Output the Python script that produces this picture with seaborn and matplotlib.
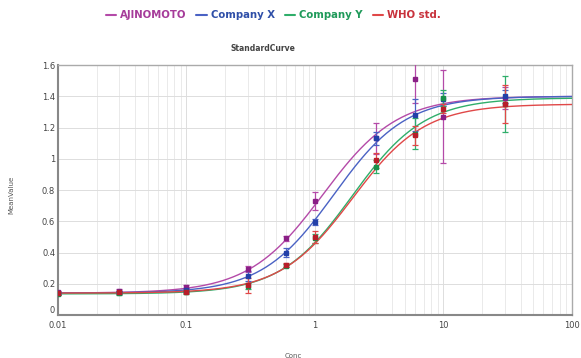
import numpy as np
import pandas as pd
import matplotlib
matplotlib.use("Agg")
import matplotlib.pyplot as plt
from matplotlib.lines import Line2D
import seaborn as sns

sns.set_style("whitegrid")
plt.rcParams["font.family"] = ["DejaVu Sans"]

# Data
conc = [0.01, 0.03, 0.1, 0.3, 0.6, 1, 3, 6, 10, 30]
series = ["AJINOMOTO", "Company X", "Company Y", "WHO std."]
mean_ajinomoto = [0.145, 0.155, 0.18, 0.295, 0.49, 0.73, 1.13, 1.51, 1.27, 1.39]
mean_company_x = [0.14, 0.145, 0.16, 0.25, 0.40, 0.595, 1.13, 1.28, 1.38, 1.40]
mean_company_y = [0.135, 0.14, 0.145, 0.185, 0.315, 0.49, 0.95, 1.16, 1.39, 1.35]
mean_who = [0.14, 0.145, 0.15, 0.19, 0.32, 0.50, 0.99, 1.15, 1.32, 1.35]
err_ajinomoto = [0.01, 0.01, 0.015, 0.02, 0.015, 0.06, 0.1, 0.15, 0.3, 0.07]
err_company_x = [0.01, 0.01, 0.01, 0.03, 0.03, 0.02, 0.04, 0.1, 0.04, 0.04]
err_company_y = [0.01, 0.01, 0.01, 0.02, 0.01, 0.03, 0.04, 0.1, 0.05, 0.18]
err_who = [0.01, 0.01, 0.01, 0.05, 0.01, 0.04, 0.05, 0.06, 0.03, 0.12]

# 4PL fit parameters per series: bottom, top, EC50, hill
fit_bottom = [0.14, 0.14, 0.135, 0.14]
fit_top = [1.40, 1.40, 1.39, 1.35]
fit_ec50 = [1.15, 1.4, 1.95, 1.95]
fit_hill = [1.5, 1.55, 1.55, 1.55]

line_colors = ["#b44aa8", "#4a62c4", "#2fae6a", "#e04848"]
marker_colors = ["#8a1f86", "#2340a8", "#18904a", "#b81e2a"]
text_colors = ["#a63c9a", "#2f4fa8", "#1f9a5a", "#c8323c"]

means = [mean_ajinomoto, mean_company_x, mean_company_y, mean_who]
errs = [err_ajinomoto, err_company_x, err_company_y, err_who]

xs = np.logspace(-2, 2, 300)
curve_rows = []
for i, name in enumerate(series):
    r = (xs / fit_ec50[i]) ** fit_hill[i]
    ys = fit_bottom[i] + (fit_top[i] - fit_bottom[i]) * r / (1 + r)
    curve_rows.append(pd.DataFrame({"Conc": xs, "MeanValue": ys, "Series": name}))
curves = pd.concat(curve_rows, ignore_index=True)

fig = plt.figure(figsize=(5.81, 3.58), dpi=100)
ax = fig.add_axes([0.0998, 0.1201, 0.8847, 0.6983])

sns.lineplot(data=curves, x="Conc", y="MeanValue", hue="Series",
             palette=dict(zip(series, line_colors)), linewidth=1.0,
             legend=False, ax=ax, zorder=3)

for i, name in enumerate(series):
    ax.errorbar(conc, means[i], yerr=errs[i], fmt="s", ms=3.2,
                color=marker_colors[i], ecolor=line_colors[i],
                elinewidth=0.9, capsize=2, capthick=0.9, zorder=4)

ax.set_xscale("log")
ax.set_xlim(0.01, 100)
ax.set_ylim(0, 1.6)
ax.set_yticks(np.arange(0, 1.61, 0.2))
ax.set_yticklabels(["0", "0.2", "0.4", "0.6", "0.8", "1", "1.2", "1.4", "1.6"])
ax.set_xticks([0.01, 0.1, 1, 10, 100])
ax.set_xticklabels(["0.01", "0.1", "1", "10", "100"])
ax.tick_params(axis="both", labelsize=6, colors="#444444", length=0)
ax.tick_params(axis="x", pad=4)
ax.tick_params(axis="y", pad=2)
# lift the "0" label a little, as in the reference
ax.get_yticklabels()[0].set_va("bottom")

ax.grid(True, which="major", color="#dddddd", linewidth=0.7)
ax.grid(True, which="minor", axis="x", color="#e6e6e6", linewidth=0.6)
ax.set_facecolor("white")
for side in ["left", "bottom"]:
    ax.spines[side].set_color("#888888")
    ax.spines[side].set_linewidth(1.5)
for side in ["top", "right"]:
    ax.spines[side].set_color("#aaaaaa")
    ax.spines[side].set_linewidth(1.0)

ax.set_xlabel("Conc", fontsize=5, color="#555555")
ax.xaxis.set_label_coords(0.457, -0.152)
ax.set_ylabel("MeanValue", fontsize=5, color="#555555")
ax.yaxis.set_label_coords(-0.084, 0.48)
fig.text(0.453, 0.865, "StandardCurve", fontsize=5.5, color="#444444",
         ha="center", va="center", fontweight="bold")

handles = [Line2D([0], [0], color=c, linewidth=1.5) for c in line_colors]
leg = fig.legend(handles, series, loc="center", bbox_to_anchor=(0.47, 0.957),
                 ncol=4, frameon=False, handlelength=1.0, handletextpad=0.4,
                 columnspacing=1.0, prop={"size": 7.3, "weight": "bold"})
for t, c in zip(leg.get_texts(), text_colors):
    t.set_color(c)

fig.savefig("out.png", dpi=100)
